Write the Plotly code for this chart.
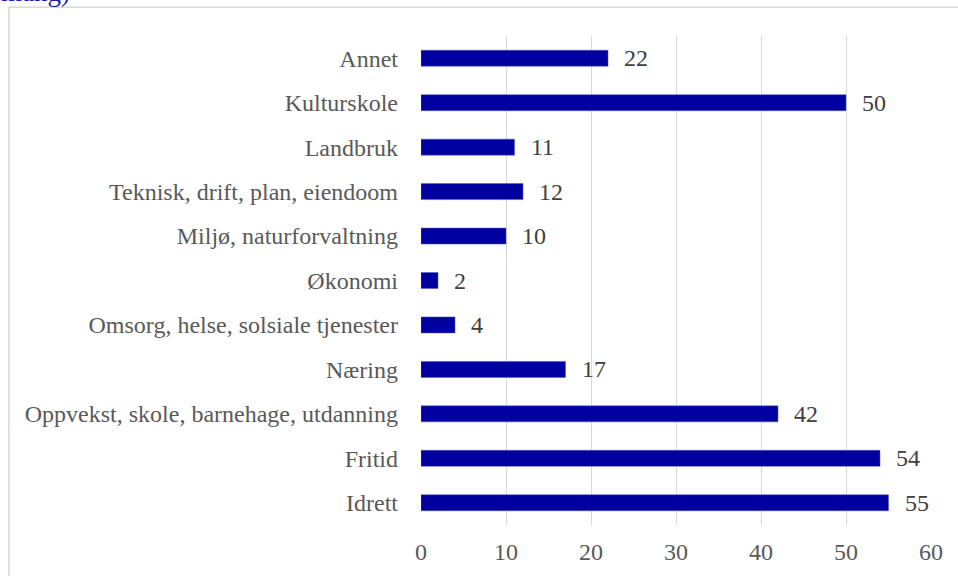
import plotly.graph_objects as go

categories = [
    "Idrett",
    "Fritid",
    "Oppvekst, skole, barnehage, utdanning",
    "Næring",
    "Omsorg, helse, solsiale tjenester",
    "Økonomi",
    "Miljø, naturforvaltning",
    "Teknisk, drift, plan, eiendoom",
    "Landbruk",
    "Kulturskole",
    "Annet",
]
values = [55, 54, 42, 17, 4, 2, 10, 12, 11, 50, 22]
x_ticks = [0, 10, 20, 30, 40, 50, 60]

font_family = "Liberation Serif"

fig = go.Figure(go.Bar(
    x=values,
    y=categories,
    orientation="h",
    marker=dict(color="#0000a0", line=dict(color="#5555c0", width=0.5)),
    hoverinfo="x+y",
))

# value labels to the right of each bar
for cat, val in zip(categories, values):
    fig.add_annotation(
        x=val, y=cat, text=str(val), showarrow=False,
        xanchor="left", xshift=14,
        font=dict(family=font_family, size=24, color="#404040"),
    )

# outer chart frame (partly off-page, like the cropped source)
fig.add_shape(
    type="rect", xref="paper", yref="paper",
    x0=-0.808, x1=1.2, y0=-0.3, y1=1.059,
    line=dict(color="#d9d9d9", width=1.5), fillcolor="rgba(0,0,0,0)",
    layer="below",
)

# cropped title remnant at top
fig.add_annotation(
    xref="paper", yref="paper", x=-0.828, y=1.056,
    xanchor="left", yanchor="bottom", text="mang)", showarrow=False,
    font=dict(family=font_family, size=27, color="#1a1ab8"),
)

fig.update_layout(
    width=958, height=576,
    margin=dict(l=421, r=27, t=36, b=51),
    paper_bgcolor="white", plot_bgcolor="white",
    bargap=0.64,
    showlegend=False,
    font=dict(family=font_family, size=24, color="#595959"),
    xaxis=dict(
        range=[0, 60], tickvals=x_ticks, showgrid=True,
        gridcolor="#d9d9d9", gridwidth=1, zeroline=False,
        showline=False, ticks="", ticklabelstandoff=10,
        fixedrange=True,
    ),
    yaxis=dict(
        categoryorder="array", categoryarray=categories,
        showgrid=False, showline=False, ticks="",
        ticklabelstandoff=22, fixedrange=True,
    ),
)

fig.write_html(
    "out.html",
    config={"displayModeBar": False},
    post_script="document.body.style.margin='0';document.body.style.overflow='hidden';",
)
